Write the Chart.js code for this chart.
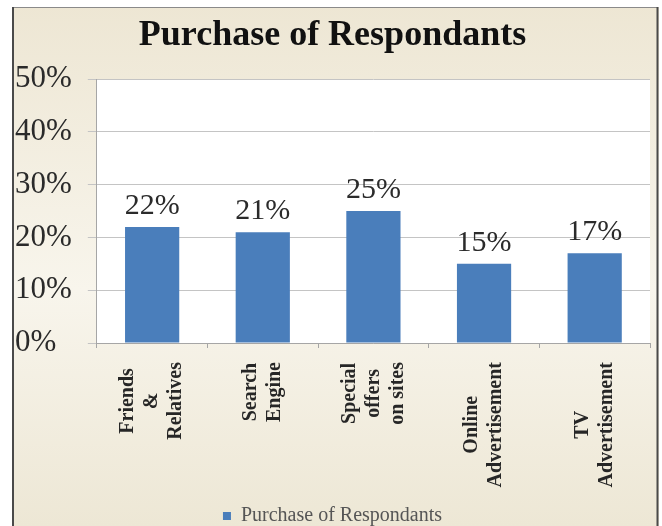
<!DOCTYPE html>
<html>
<head>
<meta charset="utf-8">
<script src="https://cdn.jsdelivr.net/npm/chart.js@4"></script>
<style>
    html, body { margin: 0; padding: 0; background: #ffffff; }
    #wrap { width: 662px; height: 526px; position: relative; }
</style>
</head>
<body>
<div id="wrap"><canvas id="purchaseChart"></canvas></div>
<script>
// Chart data
const categories = [
    ['Friends', '&', 'Relatives'],
    ['Search', 'Engine'],
    ['Special', 'offers', 'on sites'],
    ['Online', 'Advertisement'],
    ['TV', 'Advertisement']
];
const purchaseShare = [22, 21, 25, 15, 17];
const yTicks = [0, 10, 20, 30, 40, 50];

const serif = "'Liberation Serif', 'Times New Roman', serif";
const xLabelFont = 'bold 20px ' + serif;

// Beige frame, white plot area and the thin border lines
const framePlugin = {
    id: 'frame',
    afterLayout(chart) {
        // push the legend a little lower, closer to the bottom edge
        chart.legend.top += 10;
        chart.legend.bottom += 10;
    },
    beforeDraw(chart) {
        const ctx = chart.ctx;
        const w = chart.width, h = chart.height;
        const area = chart.chartArea;
        ctx.save();
        const grad = ctx.createLinearGradient(0, 0, 0, h);
        grad.addColorStop(0, '#ede6d3');
        grad.addColorStop(0.55, '#f8f5ec');
        grad.addColorStop(1, '#ede7d5');
        ctx.fillStyle = grad;
        ctx.fillRect(0, 0, w, h);
        ctx.fillStyle = '#ffffff';
        ctx.fillRect(area.left, area.top, area.right - area.left, area.bottom - area.top);
        ctx.fillRect(0, 0, w, 7);
        ctx.fillRect(0, 0, 12, h);
        ctx.fillRect(659, 0, w - 659, h);
        ctx.strokeStyle = '#8a8a8a';
        ctx.lineWidth = 1;
        ctx.beginPath();
        ctx.moveTo(12, 7.5);
        ctx.lineTo(658, 7.5);
        ctx.stroke();
        ctx.strokeStyle = '#4a4a4a';
        ctx.lineWidth = 2;
        ctx.beginPath();
        ctx.moveTo(13, 7);
        ctx.lineTo(13, h);
        ctx.moveTo(657.5, 7);
        ctx.lineTo(657.5, h);
        ctx.stroke();
        ctx.restore();
    }
};

// Value labels above each bar
const valueLabels = {
    id: 'valueLabels',
    afterDatasetsDraw(chart) {
        const ctx = chart.ctx;
        const meta = chart.getDatasetMeta(0);
        ctx.save();
        ctx.font = '30px ' + serif;
        ctx.fillStyle = '#2b2b2b';
        ctx.textAlign = 'center';
        ctx.textBaseline = 'alphabetic';
        meta.data.forEach(function(bar, i) {
            ctx.fillText(purchaseShare[i] + '%', bar.x, bar.y - 13);
        });
        ctx.restore();
    }
};

// Rotated category labels, each line centred within its block
const categoryLabels = {
    id: 'categoryLabels',
    afterDraw(chart) {
        const ctx = chart.ctx;
        const xs = chart.scales.x;
        const lineH = 24;
        ctx.save();
        ctx.font = xLabelFont;
        ctx.fillStyle = '#262626';
        ctx.textAlign = 'center';
        ctx.textBaseline = 'middle';
        categories.forEach(function(lines, i) {
            const x = xs.getPixelForTick(i);
            const maxW = Math.max.apply(null, lines.map(function(l) { return ctx.measureText(l).width; }));
            const cy = xs.top + 19 + maxW / 2;
            ctx.save();
            ctx.translate(x, cy);
            ctx.rotate(-Math.PI / 2);
            lines.forEach(function(line, j) {
                ctx.fillText(line, 0, (j - (lines.length - 1) / 2) * lineH);
            });
            ctx.restore();
        });
        ctx.restore();
    }
};

const chart = new Chart(document.getElementById('purchaseChart'), {
    type: 'bar',
    data: {
        labels: categories,
        datasets: [{
            label: 'Purchase of Respondants',
            data: purchaseShare,
            backgroundColor: '#4a7ebb',
            borderWidth: 0,
            categoryPercentage: 0.98,
            barPercentage: 0.5
        }]
    },
    options: {
        responsive: true,
        maintainAspectRatio: false,
        animation: false,
        layout: {
            padding: { left: 15, right: 12, top: 0, bottom: 0 }
        },
        plugins: {
            title: {
                display: true,
                text: 'Purchase of Respondants',
                color: '#111111',
                font: { family: serif, size: 36, weight: 'bold' },
                padding: { top: 14, bottom: 22 }
            },
            legend: {
                position: 'bottom',
                labels: {
                    usePointStyle: true,
                    pointStyle: 'rect',
                    boxWidth: 8,
                    boxHeight: 8,
                    padding: 3,
                    color: '#555555',
                    font: { family: serif, size: 20, lineHeight: 1 }
                }
            },
            tooltip: { enabled: false }
        },
        scales: {
            x: {
                grid: {
                    display: true,
                    drawOnChartArea: false,
                    tickLength: 5,
                    color: '#a6a6a6'
                },
                border: { color: '#a6a6a6' },
                ticks: { display: false },
                afterFit: function(scale) {
                    scale.height = 150;
                }
            },
            y: {
                min: 0,
                max: 50,
                afterBuildTicks: function(axis) {
                    axis.ticks = yTicks.map(function(v) { return { value: v }; });
                },
                grid: {
                    color: '#c4c4c4',
                    tickLength: 9
                },
                border: { color: '#a6a6a6' },
                ticks: {
                    crossAlign: 'far',
                    padding: 8,
                    color: '#2a2a2a',
                    font: { family: serif, size: 31 },
                    callback: function(v) { return v + '%'; }
                }
            }
        }
    },
    plugins: [framePlugin, valueLabels, categoryLabels]
});
</script>
</body>
</html>
